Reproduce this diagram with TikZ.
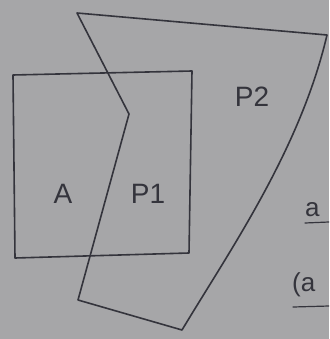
\documentclass[tikz,border=0pt]{standalone}
\usepackage{fontspec}
\setmainfont{Liberation Sans}
\definecolor{paper}{RGB}{166,166,168}
\definecolor{ink}{RGB}{52,52,60}
\begin{document}
\begin{tikzpicture}[x=1pt,y=-1pt,
  pen/.style={draw=ink,line width=1.6pt,line join=round,line cap=round},
  lbl/.style={text=ink,font=\fontsize{28}{28}\selectfont,inner sep=0pt},
  sidelbl/.style={text=ink,font=\fontsize{26}{26}\selectfont,inner sep=0pt,anchor=west}]
\useasboundingbox (0,0) rectangle (329,339);
\clip (0,0) rectangle (329,339);
\fill[paper] (0,0) rectangle (329,339);
% rectangle A
\coordinate (r1) at (13,75);
\coordinate (r2) at (192,71);
\coordinate (r3) at (189,253);
\coordinate (r4) at (15,258);
\draw[pen] (r1) -- (r2) -- (r3) -- (r4) -- cycle;
% polygon P2
\coordinate (p1) at (77,13);
\coordinate (p2) at (327,35);
\coordinate (p3) at (182,330);
\coordinate (p4) at (78,300);
\coordinate (p5) at (129,114);
\draw[pen] (p1) -- (p2) .. controls (300,150) and (230,250) .. (p3) -- (p4) -- (p5) -- cycle;
% labels
\node[lbl] (A) at (63,194) {A};
\node[lbl] (P1) at (148,194) {P1};
\node[lbl] (P2) at (252,97) {P2};
\node[sidelbl] (a1) at (305,210) {a};
\node[sidelbl] (a2) at (292,285) {(a};
\coordinate (u1) at (305,223);
\coordinate (u2) at (329,222);
\coordinate (u3) at (293,307);
\coordinate (u4) at (329,306);
\draw[pen,line width=1.2pt] (u1) -- (u2);
\draw[pen,line width=1.2pt] (u3) -- (u4);
\end{tikzpicture}
\end{document}
